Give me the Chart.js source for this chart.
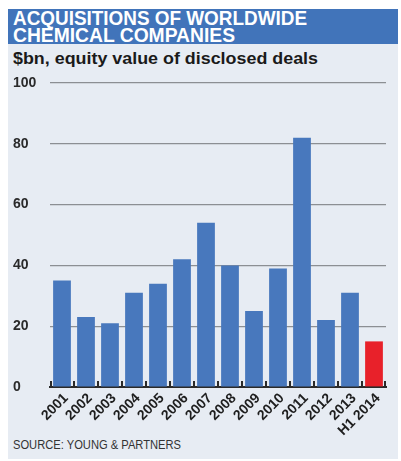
<!DOCTYPE html>
<html><head><meta charset="utf-8">
<script src="https://cdn.jsdelivr.net/npm/chart.js@4"></script>
<style>
html,body{margin:0;padding:0;background:#fff;width:401px;height:461px;overflow:hidden;font-family:"Liberation Sans",Arial,sans-serif}
#panel{position:absolute;left:8px;top:9px;width:390px;height:450px;background:#e7ecf3}
#bar{position:absolute;left:8px;top:9px;width:390px;height:35px;background:#4174ba}
.t{position:absolute;white-space:nowrap;transform-origin:0 0}
#t1,#t2{color:#fff;font-weight:bold;font-size:20px;line-height:20px;left:13px}
#t1{top:8px}#t2{top:25px}
#sub{left:13px;top:49px;font-weight:bold;font-size:17px;line-height:19px;color:#1a1a1a}
#src{left:13px;top:438px;font-size:12px;line-height:14px;color:#333}
canvas{position:absolute;left:0;top:0}
</style></head>
<body>
<div id="panel"></div>
<div id="bar"></div>
<div class="t" id="t1" data-w="294">ACQUISITIONS OF WORLDWIDE</div>
<div class="t" id="t2" data-w="222">CHEMICAL COMPANIES</div>
<div class="t" id="sub" data-w="305">$bn, equity value of disclosed deals</div>
<div class="t" id="src" data-w="168">SOURCE: YOUNG &amp; PARTNERS</div>
<canvas id="c" width="401" height="461"></canvas>
<script>
const categories = ["2001","2002","2003","2004","2005","2006","2007","2008","2009","2010","2011","2012","2013","H1 2014"];
const values = [35, 23, 21, 31, 34, 42, 54, 40, 25, 39, 82, 22, 31, 15];
const yTicks = [0, 20, 40, 60, 80, 100];

document.querySelectorAll('.t').forEach(el => {
  const target = +el.dataset.w;
  const w = el.getBoundingClientRect().width;
  el.style.transform = 'scaleX(' + (target / w) + ')';
});

const barColors = categories.map(c => c.startsWith('H1') ? '#e8212a' : '#4878bd');

const upTicks = {
  id: 'upTicks',
  afterDatasetsDraw(chart) {
    const x = chart.scales.x, ca = chart.chartArea, ctx = chart.ctx;
    const n = categories.length;
    ctx.save();
    ctx.strokeStyle = '#2a2a2a';
    ctx.lineWidth = 2;
    ctx.beginPath();
    for (let i = 0; i <= n; i++) {
      let px;
      if (i === 0) px = ca.left + 1;
      else if (i === n) px = ca.right - 1;
      else px = (x.getPixelForValue(i - 1) + x.getPixelForValue(i)) / 2;
      ctx.moveTo(px, ca.bottom);
      ctx.lineTo(px, ca.bottom - 6);
    }
    ctx.stroke();
    ctx.restore();
  }
};

new Chart(document.getElementById('c'), {
  type: 'bar',
  data: {
    labels: categories,
    datasets: [{ data: values, backgroundColor: barColors, borderWidth: 0,
      barPercentage: 0.74, categoryPercentage: 1 }]
  },
  options: {
    responsive: false,
    animation: false,
    layout: { padding: { left: 13, right: 15, top: 83, bottom: 0 } },
    plugins: { legend: { display: false }, tooltip: { enabled: false } },
    scales: {
      x: {
        grid: { display: false, drawTicks: false },
        border: { display: true, color: '#2a2a2a', width: 2 },
        ticks: { autoSkip: false, minRotation: 45, maxRotation: 45, padding: 3, labelOffset: 4, color: '#1e1e1e',
          font: { family: 'Liberation Sans', size: 14, weight: 'bold' } },
        afterFit: s => { s.height = 74; }
      },
      y: {
        min: 0, max: 100,
        afterBuildTicks: s => { s.ticks = yTicks.map(v => ({ value: v })); },
        grid: { color: ctx => ctx.tick && ctx.tick.value === 0 ? 'rgba(0,0,0,0)' : '#8c8f93', lineWidth: 1.2, drawTicks: false },
        border: { display: false },
        ticks: { crossAlign: 'far', padding: 0, color: '#2a2a2a',
          font: { family: 'Liberation Sans', size: 14, weight: 'bold' } },
        afterFit: s => { s.width = 37; }
      }
    }
  },
  plugins: [upTicks]
});
</script>
</body></html>
